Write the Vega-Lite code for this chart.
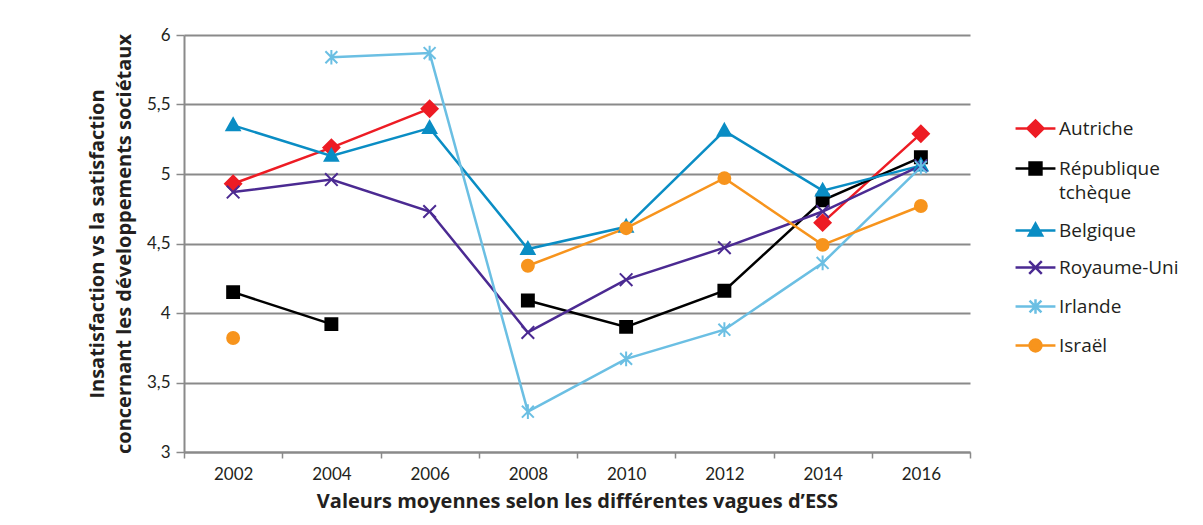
{
  "$schema": "https://vega.github.io/schema/vega-lite/v6.json",
  "autosize": "none",
  "width": 786,
  "height": 417,
  "padding": {"left": 184, "top": 35, "right": 233, "bottom": 73},
  "background": "white",
  "config": {
    "font": "Lato",
    "view": {"stroke": null},
    "axis": {"labelFont": "Lato", "titleFont": "Open Sans", "labelColor": "#231f20", "titleColor": "#231f20"},
    "legend": {
      "orient": "none",
      "legendX": 842,
      "legendY": 84,
      "title": null,
      "symbolSize": 196,
      "symbolStrokeWidth": 2.5,
      "labelFontSize": 19,
      "labelColor": "#231f20",
      "labelFont": "Open Sans",
      "labelOffset": 14,
      "rowPadding": 15,
      "labelLimit": 200
    }
  },
  "data": {
    "values": [
      {"year": "2002", "country": "Autriche", "value": 4.93},
      {"year": "2004", "country": "Autriche", "value": 5.19},
      {"year": "2006", "country": "Autriche", "value": 5.47},
      {"year": "2008", "country": "Autriche", "value": null},
      {"year": "2010", "country": "Autriche", "value": null},
      {"year": "2012", "country": "Autriche", "value": null},
      {"year": "2014", "country": "Autriche", "value": 4.65},
      {"year": "2016", "country": "Autriche", "value": 5.29},
      {"year": "2002", "country": "République tchèque", "value": 4.15},
      {"year": "2004", "country": "République tchèque", "value": 3.92},
      {"year": "2006", "country": "République tchèque", "value": null},
      {"year": "2008", "country": "République tchèque", "value": 4.09},
      {"year": "2010", "country": "République tchèque", "value": 3.9},
      {"year": "2012", "country": "République tchèque", "value": 4.16},
      {"year": "2014", "country": "République tchèque", "value": 4.81},
      {"year": "2016", "country": "République tchèque", "value": 5.12},
      {"year": "2002", "country": "Belgique", "value": 5.35},
      {"year": "2004", "country": "Belgique", "value": 5.13},
      {"year": "2006", "country": "Belgique", "value": 5.33},
      {"year": "2008", "country": "Belgique", "value": 4.46},
      {"year": "2010", "country": "Belgique", "value": 4.62},
      {"year": "2012", "country": "Belgique", "value": 5.31},
      {"year": "2014", "country": "Belgique", "value": 4.88},
      {"year": "2016", "country": "Belgique", "value": 5.06},
      {"year": "2002", "country": "Royaume-Uni", "value": 4.87},
      {"year": "2004", "country": "Royaume-Uni", "value": 4.96},
      {"year": "2006", "country": "Royaume-Uni", "value": 4.73},
      {"year": "2008", "country": "Royaume-Uni", "value": 3.86},
      {"year": "2010", "country": "Royaume-Uni", "value": 4.24},
      {"year": "2012", "country": "Royaume-Uni", "value": 4.47},
      {"year": "2014", "country": "Royaume-Uni", "value": 4.73},
      {"year": "2016", "country": "Royaume-Uni", "value": 5.06},
      {"year": "2002", "country": "Irlande", "value": null},
      {"year": "2004", "country": "Irlande", "value": 5.84},
      {"year": "2006", "country": "Irlande", "value": 5.87},
      {"year": "2008", "country": "Irlande", "value": 3.29},
      {"year": "2010", "country": "Irlande", "value": 3.67},
      {"year": "2012", "country": "Irlande", "value": 3.88},
      {"year": "2014", "country": "Irlande", "value": 4.36},
      {"year": "2016", "country": "Irlande", "value": 5.05},
      {"year": "2002", "country": "Israël", "value": 3.82},
      {"year": "2004", "country": "Israël", "value": null},
      {"year": "2006", "country": "Israël", "value": null},
      {"year": "2008", "country": "Israël", "value": 4.34},
      {"year": "2010", "country": "Israël", "value": 4.61},
      {"year": "2012", "country": "Israël", "value": 4.97},
      {"year": "2014", "country": "Israël", "value": 4.49},
      {"year": "2016", "country": "Israël", "value": 4.77}
    ]
  },
  "encoding": {
    "x": {
      "field": "year",
      "type": "ordinal",
      "bandPosition": 0.5,
      "scale": {"type": "band", "paddingInner": 0, "paddingOuter": 0},
      "axis": {
        "title": "Valeurs moyennes selon les différentes vagues d’ESS",
        "titleFontSize": 20,
        "titleFontWeight": "bold",
        "titlePadding": 9,
        "labelFontSize": 17,
        "labelAngle": 0,
        "labelPadding": 8,
        "tickBand": "extent",
        "tickSize": 6,
        "tickColor": "#8a8a8a",
        "tickWidth": 1.5,
        "domainColor": "#8a8a8a",
        "domainWidth": 2,
        "grid": false
      }
    },
    "y": {
      "field": "value",
      "type": "quantitative",
      "scale": {"domain": [3, 6], "nice": false, "zero": false},
      "axis": {
        "title": ["Insatisfaction vs la satisfaction", "concernant les développements sociétaux"],
        "titleFontSize": 20,
        "titleFontWeight": "bold",
        "titleLineHeight": 27,
        "titlePadding": 12,
        "values": [3, 3.5, 4, 4.5, 5, 5.5, 6],
        "labelExpr": "replace(format(datum.value, '.1~f'), '.', ',')",
        "labelFontSize": 17,
        "labelPadding": 6,
        "tickSize": 8,
        "tickColor": "#8a8a8a",
        "tickWidth": 1.5,
        "domainColor": "#8a8a8a",
        "domainWidth": 2,
        "grid": true,
        "gridColor": "#8a8a8a",
        "gridWidth": 2
      }
    },
    "color": {
      "field": "country",
      "type": "nominal",
      "sort": ["Autriche", "République tchèque", "Belgique", "Royaume-Uni", "Irlande", "Israël"],
      "scale": {
        "domain": ["Autriche", "République tchèque", "Belgique", "Royaume-Uni", "Irlande", "Israël"],
        "range": ["#ed1c24", "#000000", "#0a8dc4", "#4b2a92", "#6bbfe3", "#f7941d"]
      },
      "legend": {
        "labelExpr": "datum.label == 'République tchèque' ? ['République', 'tchèque'] : datum.label",
        "encode": {
          "symbols": {
            "update": {
              "shape": {"signal": "'M-2.85,0L2.85,0' + (datum.value === 'Autriche' ? 'M-1.15,0L0,-1.15L1.15,0L0,1.15Z' : datum.value === 'République tchèque' ? 'M-0.85,-0.85L0.85,-0.85L0.85,0.85L-0.85,0.85Z' : datum.value === 'Belgique' ? 'M0,-1L0.95,0.7L-0.95,0.7Z' : datum.value === 'Royaume-Uni' ? 'M-0.9,-0.9L0.9,0.9M-0.9,0.9L0.9,-0.9' : datum.value === 'Irlande' ? 'M-0.85,-0.85L0.85,0.85M-0.85,0.85L0.85,-0.85M0,-1.05L0,1.05' : 'M0.85,0A0.85,0.85,0,1,1,-0.85,0A0.85,0.85,0,1,1,0.85,0Z')"},
              "fill": {"signal": "scale('color', datum.value)"},
              "stroke": {"signal": "scale('color', datum.value)"},
              "strokeWidth": {"value": 2.5},
              "opacity": {"value": 1}
            }
          },
          "labels": {
            "update": {
              "lineHeight": {"value": 24}
            }
          }
        }
      }
    }
  },
  "layer": [
    {
      "mark": {"type": "line", "strokeWidth": 2.5, "invalid": "break-paths-show-domains"}
    },
    {
      "mark": {
        "type": "point",
        "filled": true,
        "opacity": 1,
        "size": 196,
        "strokeWidth": 2,
        "stroke": {"expr": "scale('color', datum.country)"},
        "shape": {"expr": "datum.country === 'Autriche' ? 'M-1.15,0L0,-1.15L1.15,0L0,1.15Z' : datum.country === 'République tchèque' ? 'M-0.85,-0.85L0.85,-0.85L0.85,0.85L-0.85,0.85Z' : datum.country === 'Belgique' ? 'M0,-1L0.95,0.7L-0.95,0.7Z' : datum.country === 'Royaume-Uni' ? 'M-0.9,-0.9L0.9,0.9M-0.9,0.9L0.9,-0.9' : datum.country === 'Irlande' ? 'M-0.85,-0.85L0.85,0.85M-0.85,0.85L0.85,-0.85M0,-1.05L0,1.05' : 'M0.85,0A0.85,0.85,0,1,1,-0.85,0A0.85,0.85,0,1,1,0.85,0Z'"}
      }
    }
  ]
}
